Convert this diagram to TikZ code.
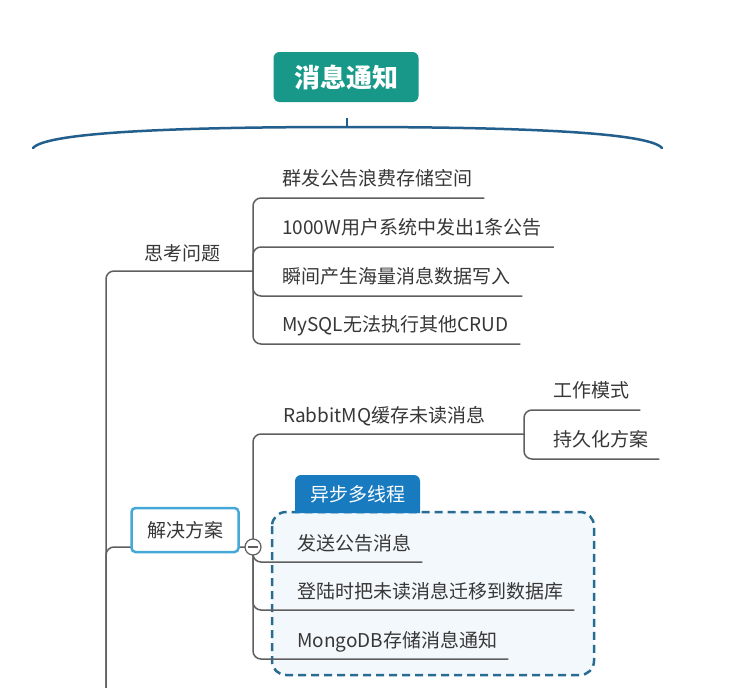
\documentclass[tikz,border=0pt]{standalone}
\usepackage{fontspec}
\setmainfont{Noto Sans CJK SC}
\definecolor{rootteal}{RGB}{24,152,136}
\definecolor{linegray}{RGB}{95,95,95}
\definecolor{txtgray}{RGB}{55,55,55}
\definecolor{bracecol}{RGB}{35,95,140}
\definecolor{selblue}{RGB}{70,168,216}
\definecolor{dashblue}{RGB}{40,108,148}
\definecolor{boxfill}{RGB}{243,248,252}
\definecolor{tabblue}{RGB}{24,122,191}
\begin{document}
\begin{tikzpicture}[x=1pt,y=-1pt,
  leaf/.style={anchor=base west, inner sep=0pt, font=\fontsize{19}{22}\selectfont, text=txtgray},
  branch/.style={draw=linegray, line width=1.5pt, rounded corners=8pt},
  rootnode/.style={fill=rootteal, rounded corners=6pt, minimum width=145pt, minimum height=50pt, text=white, font=\fontsize{26}{30}\selectfont\bfseries},
  selnode/.style={draw=selblue, line width=2.5pt, fill=white, rounded corners=4pt, minimum width=107pt, minimum height=44pt, font=\fontsize{19}{22}\selectfont, text=txtgray},
  collapse/.style={circle, draw=linegray, line width=1.2pt, fill=white, minimum size=16pt, inner sep=0pt}
]
\useasboundingbox[fill=white] (0,0) rectangle (732,688);

% root and brace
\node[rootnode] (root) at (346,77) {消息通知};
\coordinate (tick) at (347,118);
\coordinate (brc) at (347,127);
\coordinate (brl) at (33,148);
\coordinate (brr) at (662,148);
\draw[bracecol, line width=2.5pt] (tick) -- (brc);
\draw[bracecol, line width=2.5pt, line cap=round] (brl) .. controls (45,134) and (150,127) .. (brc) .. controls (545,127) and (650,134) .. (brr);

% main vertical
\coordinate (mvb) at (106,688);
\coordinate (jq) at (253,271);
\coordinate (js) at (253,547);

% 思考问题
\node[leaf] (q) at (144,260) {思考问题};
\node[leaf] (a1) at (282,185) {群发公告浪费存储空间};
\node[leaf] (a2) at (282,234) {1000W用户系统中发出1条公告};
\node[leaf] (a3) at (282,283) {瞬间产生海量消息数据写入};
\node[leaf] (a4) at (282,331) {MySQL无法执行其他CRUD};
\path[branch] (mvb) |- (jq);
\foreach \n in {a1,a2,a3,a4}
  \path[branch] (jq) |- ([xshift=12pt,yshift=-13pt]\n.base east);

% 解决方案 branch
\path[branch] (mvb) |- (js);

% RabbitMQ
\coordinate (rj) at (524,434);
\node[leaf] (r) at (283,422) {RabbitMQ缓存未读消息};
\path[branch] (js) |- (rj);
\node[leaf] (w1) at (553,397) {工作模式};
\node[leaf] (w2) at (553,446) {持久化方案};
\foreach \n in {w1,w2}
  \path[branch] (rj) |- ([xshift=11pt,yshift=-13pt]\n.base east);

% dashed group box and tab
\draw[dashblue, fill=boxfill, line width=2.5pt, dash pattern=on 8pt off 5pt, rounded corners=14pt] (272,512) rectangle (594,675);
\fill[tabblue] (295,513) {[rounded corners=6pt] -- (295,475) -- (420,475)} -- (420,513) -- cycle;
\node[text=white, font=\fontsize{19}{22}\selectfont, inner sep=0pt] (tab) at (357.5,494) {异步多线程};

\node[leaf] (b1) at (297,550) {发送公告消息};
\node[leaf] (b2) at (297,598) {登陆时把未读消息迁移到数据库};
\node[leaf] (b3) at (297,647) {MongoDB存储消息通知};
\foreach \n in {b1,b2,b3}
  \path[branch] (js) |- ([xshift=11pt,yshift=-12pt]\n.base east);

% 解决方案 node and collapse button on top
\node[selnode] (s) at (185,530) {解决方案};
\node[collapse] (cb) at (js) {};
\draw[linegray, line width=1.3pt] ([xshift=3.5pt]cb.west) -- ([xshift=-3.5pt]cb.east);
\end{tikzpicture}
\end{document}
